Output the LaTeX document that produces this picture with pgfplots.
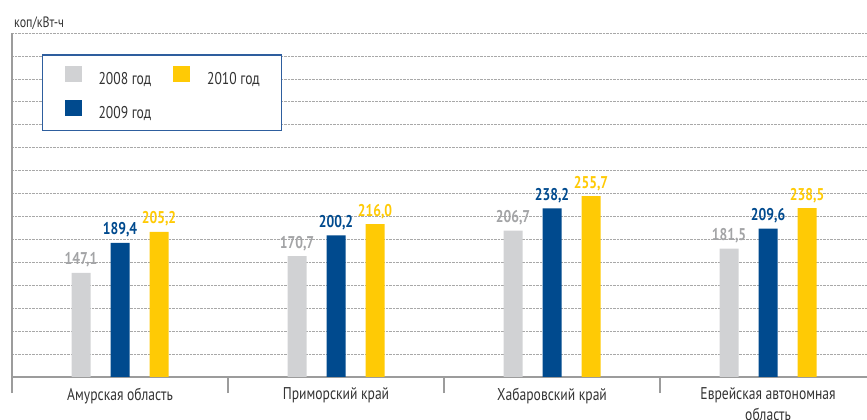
\documentclass[border=0pt]{standalone}
\usepackage{fontspec}
\setmainfont{PT Sans}[FakeStretch=0.8]
\usepackage{pgfplots}
\pgfplotsset{compat=1.18}

\definecolor{cgray}{HTML}{D1D2D4}
\definecolor{cblue}{HTML}{004A8E}
\definecolor{cyellow}{HTML}{FFCA05}
\definecolor{lgray}{HTML}{A3A4A6}
\definecolor{axisgray}{HTML}{9C9C9C}
\definecolor{gridgray}{HTML}{A8A8A8}
\definecolor{legblue}{HTML}{2E5E9E}
\definecolor{darktext}{HTML}{333333}

\begin{document}
\begin{tikzpicture}
\useasboundingbox (0,0) rectangle (867pt,420pt);
\begin{axis}[
    at={(12pt,43pt)}, anchor=south west,
    scale only axis,
    width=855pt, height=344pt,
    xmin=-0.5, xmax=3.458,
    ymin=0, ymax=486,
    ybar=20pt,
    bar width=19pt,
    axis x line=bottom, axis y line=left,
    axis line style={draw=axisgray, line width=2.5pt, -},
    ytick={32.4,64.8,97.2,129.6,162,194.4,226.8,259.2,291.6,324,356.4,388.8,421.2,453.6,486},
    yticklabels={},
    ymajorgrids,
    grid style={densely dotted, draw=gridgray, line width=0.7pt},
    xtick={0,1,2,3},
    xticklabels={Амурская область, Приморский край, Хабаровский край, {Еврейская автономная\\область}},
    xticklabel style={anchor=north, yshift=-10.5pt, inner sep=0pt, align=center, text=darktext,
        font=\fontsize{17}{21}\selectfont},
    minor xtick={-0.5,0.5,1.5,2.5},
    tick align=outside,
    major tick length=0pt,
    minor tick length=16pt,
    every minor tick/.append style={draw=axisgray, line width=2.5pt},
    /pgf/number format/assume math mode=true,
    nodes near coords={\pgfmathprintnumber[fixed,fixed zerofill,precision=1,use comma]{\pgfplotspointmeta}},
    every node near coord/.append style={anchor=base, yshift=8pt, font=\fontsize{17}{18}\selectfont\bfseries},
    legend columns=2,
    legend image code/.code={\fill[#1] (0pt,-3pt) rectangle (17pt,13pt);},
    legend style={at={(0.035,0.938)}, anchor=north west, draw=legblue, line width=1.2pt,
        inner xsep=22pt, inner ysep=11pt, row sep=14pt,
        nodes={inner sep=0pt, text=darktext, font=\fontsize{17}{18}\selectfont},
        /tikz/every odd column/.append style={column sep=17pt},
        /tikz/every even column/.append style={column sep=22pt}},
    legend cell align=left,
]
\addlegendimage{fill=cgray, draw=none}
\addlegendentry{2008 год}
\addlegendimage{fill=cyellow, draw=none}
\addlegendentry{2010 год}
\addlegendimage{fill=cblue, draw=none}
\addlegendentry{2009 год}

\addplot[bar shift=-39pt, fill=cgray, draw=none, forget plot,
    every node near coord/.append style={text=lgray}]
    coordinates {(0,147.1) (1,170.7) (2,206.7) (3,181.5)};
\addplot[bar shift=0pt, fill=cblue, draw=none, forget plot,
    every node near coord/.append style={text=cblue}]
    coordinates {(0,189.4) (1,200.2) (2,238.2) (3,209.6)};
\addplot[bar shift=39pt, fill=cyellow, draw=none, forget plot,
    every node near coord/.append style={text=cyellow}]
    coordinates {(0,205.2) (1,216.0) (2,255.7) (3,238.5)};
\end{axis}
\node[anchor=west, inner sep=0pt, text=darktext, font=\fontsize{15}{16}\selectfont] at (14pt,397pt) {коп/кВт-ч};
\end{tikzpicture}
\end{document}
